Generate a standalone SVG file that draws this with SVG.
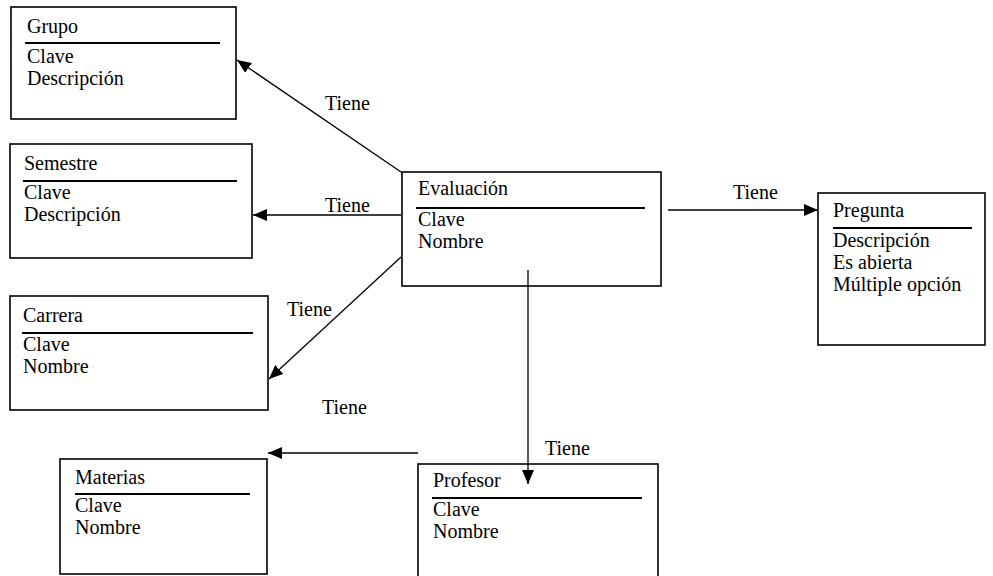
<svg xmlns="http://www.w3.org/2000/svg" width="993" height="576" viewBox="0 0 993 576">
<style>
.box{fill:#fff;stroke:#000;stroke-width:1.6}
.sep{stroke:#000;stroke-width:2.2}
.t{font-family:"Liberation Serif","Times New Roman",serif;font-size:20px;fill:#000}
.c{stroke:#000;stroke-width:1.3;fill:none}
</style>
<defs>
<marker id="ah" viewBox="0 0 14 12" refX="14" refY="6" markerWidth="14" markerHeight="12" markerUnits="userSpaceOnUse" orient="auto">
<path d="M0,0 L14,6 L0,12 Z" fill="#000"/>
</marker>
</defs>
<rect width="993" height="576" fill="#fff"/>
<g id="grupo">
<rect class="box" x="11" y="7" width="225" height="112"/>
<text class="t" x="27" y="33">Grupo</text>
<line class="sep" x1="25" y1="43" x2="220" y2="43"/>
<text class="t" x="27" y="63">Clave</text>
<text class="t" x="27" y="85">Descripción</text>
</g>
<g id="semestre">
<rect class="box" x="10" y="144" width="242" height="114"/>
<text class="t" x="24" y="170">Semestre</text>
<line class="sep" x1="23" y1="181" x2="237" y2="181"/>
<text class="t" x="24" y="199">Clave</text>
<text class="t" x="24" y="221">Descripción</text>
</g>
<g id="carrera">
<rect class="box" x="10" y="296" width="258" height="114"/>
<text class="t" x="23" y="322">Carrera</text>
<line class="sep" x1="22" y1="333" x2="253" y2="333"/>
<text class="t" x="23" y="351">Clave</text>
<text class="t" x="23" y="373">Nombre</text>
</g>
<g id="evaluacion">
<rect class="box" x="402" y="172" width="259" height="114"/>
<text class="t" x="418" y="195">Evaluación</text>
<line class="sep" x1="416" y1="208" x2="645" y2="208"/>
<text class="t" x="418" y="226">Clave</text>
<text class="t" x="418" y="248">Nombre</text>
</g>
<g id="pregunta">
<rect class="box" x="818" y="193" width="167" height="152"/>
<text class="t" x="833" y="217">Pregunta</text>
<line class="sep" x1="833" y1="228" x2="972" y2="228"/>
<text class="t" x="833" y="247">Descripción</text>
<text class="t" x="833" y="269">Es abierta</text>
<text class="t" x="833" y="291">Múltiple opción</text>
</g>
<g id="materias">
<rect class="box" x="60" y="459" width="207" height="115"/>
<text class="t" x="75" y="484">Materias</text>
<line class="sep" x1="75" y1="494" x2="250" y2="494"/>
<text class="t" x="75" y="512">Clave</text>
<text class="t" x="75" y="534">Nombre</text>
</g>
<g id="profesor">
<rect class="box" x="418" y="464" width="240" height="113"/>
<text class="t" x="433" y="487">Profesor</text>
<line class="sep" x1="432" y1="498" x2="642" y2="498"/>
<text class="t" x="433" y="516">Clave</text>
<text class="t" x="433" y="538">Nombre</text>
</g>
<g id="connectors">
<line class="c" x1="401" y1="172" x2="237" y2="60" marker-end="url(#ah)"/>
<line class="c" x1="401" y1="215" x2="253" y2="215" marker-end="url(#ah)"/>
<line class="c" x1="401" y1="257" x2="269" y2="379" marker-end="url(#ah)"/>
<line class="c" x1="668" y1="210" x2="818" y2="210" marker-end="url(#ah)"/>
<line class="c" x1="528" y1="270" x2="528" y2="484" marker-end="url(#ah)"/>
<line class="c" x1="418" y1="453" x2="268" y2="453" marker-end="url(#ah)"/>
<text class="t" x="325" y="110">Tiene</text>
<text class="t" x="325" y="212">Tiene</text>
<text class="t" x="287" y="316">Tiene</text>
<text class="t" x="733" y="199">Tiene</text>
<text class="t" x="545" y="455">Tiene</text>
<text class="t" x="322" y="414">Tiene</text>
</g>
</svg>
